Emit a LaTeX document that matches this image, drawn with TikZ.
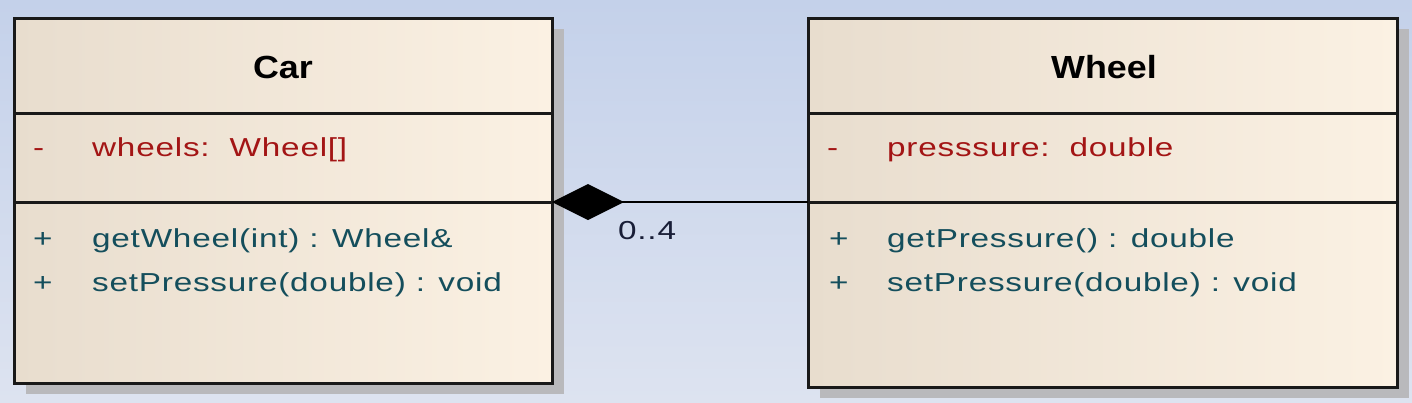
\documentclass[tikz,border=0pt]{standalone}
\usepackage{fontspec}
\setmainfont{Liberation Sans}
\newfontfamily\bodyf[FakeStretch=1.28,LetterSpace=3]{Liberation Sans}
\newfontfamily\headf[FakeStretch=1.12]{Liberation Sans}
\usetikzlibrary{arrows.meta,shadows}
\definecolor{bgtop}{RGB}{196,209,234}
\definecolor{bgbot}{RGB}{221,227,240}
\definecolor{boxl}{RGB}{232,221,206}
\definecolor{boxr}{RGB}{251,241,227}
\definecolor{attrc}{RGB}{163,21,21}
\definecolor{methc}{RGB}{20,78,92}
\definecolor{lblc}{RGB}{25,30,55}
\definecolor{edgec}{RGB}{25,25,25}
\definecolor{shadowc}{RGB}{185,185,188}
\tikzset{
  classbox/.style={draw=edgec, line width=3pt, left color=boxl, right color=boxr,
    rectangle, anchor=north west, inner sep=0pt, outer sep=0pt,
    drop shadow={shadow xshift=12pt, shadow yshift=-11pt, fill=shadowc, opacity=1}},
  divider/.style={draw=edgec, line width=3pt},
  hd/.style={font=\headf\bfseries\fontsize{32}{36}\selectfont, text=black, inner sep=0pt, anchor=base},
  attrtxt/.style={font=\bodyf\fontsize{26}{30}\selectfont, text=attrc, inner sep=0pt, anchor=base west},
  methtxt/.style={font=\bodyf\fontsize{26}{30}\selectfont, text=methc, inner sep=0pt, anchor=base west},
  lbltxt/.style={font=\bodyf\fontsize{26}{30}\selectfont, text=lblc, inner sep=0pt, anchor=base west},
  compose/.style={draw=black, line width=2.6pt, {Diamond[length=72pt,width=36pt,fill=black]}-}
}
\begin{document}
\begin{tikzpicture}[x=1pt,y=-1pt]
\useasboundingbox (0,0) rectangle (1412,402);
\shade[top color=bgtop, bottom color=bgbot] (0,0) rectangle (1412,402);
% Car
\node[classbox, minimum width=538pt, minimum height=365pt] (car) at (14,18) {};
\draw[divider] (14,113) coordinate (carh1) -- (552,113) coordinate (carh2);
\draw[divider] (14,202) coordinate (card1) -- (552,202) coordinate (card2);
\node[hd] (carname) at (283,78) {Car};
\node[attrtxt] (carvis1) at (33,156) {-};
\node[attrtxt] (carattr) at (92,156) {wheels:\ \ Wheel[]};
\node[methtxt] (carvis2) at (33,247) {+};
\node[methtxt] (carm1) at (92,247) {getWheel(int) : Wheel\&};
\node[methtxt] (carvis3) at (33,291) {+};
\node[methtxt] (carm2) at (92,291) {setPressure(double) : void};
% Wheel
\node[classbox, minimum width=589pt, minimum height=369pt] (wheel) at (808,18) {};
\draw[divider] (808,113) coordinate (wh1) -- (1397,113) coordinate (wh2);
\draw[divider] (808,202) coordinate (wd1) -- (1399,202) coordinate (wd2);
\node[hd] (wheelname) at (1104,78) {Wheel};
\node[attrtxt] (wvis1) at (827,156) {-};
\node[attrtxt] (wattr) at (887,156) {presssure:\ \ double};
\node[methtxt] (wvis2) at (829,247) {+};
\node[methtxt] (wm1) at (887,247) {getPressure() : double};
\node[methtxt] (wvis3) at (829,291) {+};
\node[methtxt] (wm2) at (887,291) {setPressure(double) : void};
% Composition
\coordinate (cjoin) at (car.east |- card2);
\draw[compose] (cjoin) -- (wheel.west |- cjoin);
\node[lbltxt] (mult) at (618,239) {0..4};
\end{tikzpicture}
\end{document}
